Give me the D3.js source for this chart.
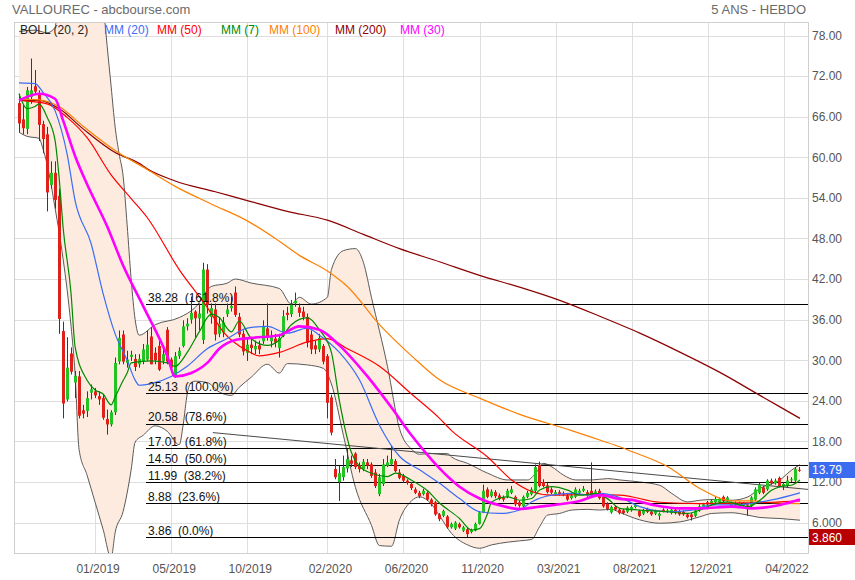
<!DOCTYPE html>
<html><head><meta charset="utf-8">
<script src="https://cdn.jsdelivr.net/npm/d3@7"></script>
<style>
body{margin:0;background:#fff}
svg{display:block}
text{font-family:"Liberation Sans",Arial,sans-serif}
</style>
</head><body>
<svg id="c" width="855" height="580"></svg>
<script>
// ---------- DATA ----------
const opens = [
68.0,65.6,64.2,68.9,70.5,69.4,64.9,63.4,55.9,57.7,
54.3,34.3,24.2,31.0,26.7,27.6,22.6,22.5,25.2,25.4,
24.7,24.4,21.3,20.5,22.3,29.8,33.8,29.6,30.5,30.2,
29.4,29.8,30.1,33.5,31.1,32.1,29.9,34.5,30.1,27.6,
30.6,32.1,35.0,36.0,37.2,36.2,33.0,43.4,36.4,37.5,
33.9,34.1,36.8,37.7,40.0,36.4,33.9,31.1,32.3,31.6,
32.2,32.8,34.7,32.8,33.2,31.8,33.6,37.0,36.8,38.4,
37.8,37.2,36.4,33.8,32.2,31.6,32.1,30.6,24.5,13.9,
12.0,12.7,14.0,15.2,16.2,14.5,13.9,14.9,14.6,13.4,
10.2,11.7,14.4,14.6,15.1,13.4,12.9,12.2,11.7,10.9,
10.4,10.2,10.4,9.4,9.0,7.2,7.0,6.9,5.3,5.1,
5.8,4.8,5.0,4.6,4.8,5.8,7.5,10.9,9.9,10.5,
10.0,9.7,9.8,10.4,9.8,9.0,8.4,9.8,10.2,10.7,
14.5,12.0,11.5,10.9,10.2,10.5,10.3,10.0,9.6,9.8,
10.4,10.7,10.5,10.7,10.4,10.7,9.8,8.8,7.5,8.3,
7.9,7.8,7.6,7.8,8.3,7.7,7.3,8.0,7.6,7.3,
7.0,7.9,7.6,7.4,7.9,7.7,7.6,7.2,7.2,7.0,
7.8,8.4,9.0,8.7,9.0,9.0,9.8,9.3,8.4,8.9,
8.4,8.5,8.7,8.4,9.4,10.4,11.2,10.9,12.2,11.8,
12.6,11.4,11.5,12.3,12.2,13.8];
const highs = [
69.4,67.9,70.4,74.6,72.9,69.9,65.4,64.5,59.4,59.4,
55.4,35.7,33.4,31.9,28.4,28.4,23.4,25.4,26.4,25.9,
25.4,24.9,22.7,22.6,30.4,34.4,34.4,31.4,31.4,30.9,
30.9,32.4,34.4,34.9,31.9,33.4,31.9,34.9,30.4,31.2,
31.9,35.9,36.2,39.4,37.4,38.4,44.4,44.2,38.4,38.4,
36.4,36.4,38.4,39.4,40.9,37.0,34.4,33.4,33.4,32.9,
32.9,35.9,38.4,34.4,33.9,33.9,37.4,37.9,38.9,40.0,
38.4,37.9,36.9,34.4,32.9,33.9,32.4,30.9,24.9,15.4,
14.4,15.9,16.9,15.9,16.4,14.9,15.4,15.4,14.9,13.9,
13.2,15.4,15.9,17.4,15.4,13.9,13.2,12.4,12.0,11.2,
10.7,11.0,10.6,9.6,9.2,7.4,7.9,7.1,6.0,6.2,
6.0,5.5,5.2,5.1,6.0,7.7,11.6,11.2,10.9,10.8,
10.3,10.0,11.0,11.4,10.0,9.2,10.0,10.7,11.2,14.6,
15.0,12.4,11.9,11.2,10.8,10.8,10.6,10.3,10.3,11.2,
11.0,11.4,10.8,14.9,10.9,11.0,10.0,9.0,8.5,8.5,
8.1,8.0,8.4,8.5,8.8,7.9,8.0,8.2,7.8,7.9,
7.5,8.1,8.0,8.1,8.1,7.9,7.8,7.4,7.4,8.0,
8.7,8.9,9.2,9.4,9.8,9.7,10.0,9.9,9.1,9.1,
9.1,9.0,8.9,9.9,11.2,11.9,11.4,12.4,12.5,12.5,
12.8,12.0,12.9,12.7,14.2,14.2];
const lows = [
63.7,63.4,63.4,67.9,69.2,62.4,60.6,52.0,55.4,52.4,
33.9,21.4,23.9,27.9,24.4,21.4,21.4,21.6,24.2,24.4,
23.4,21.2,19.0,20.2,21.9,29.4,29.4,28.9,29.9,28.4,
28.9,29.4,29.9,29.4,29.4,28.4,29.4,29.4,28.2,27.4,
30.2,31.9,34.4,35.4,33.4,34.4,32.4,36.9,35.4,32.9,
33.4,33.4,36.4,37.2,36.4,33.4,30.7,29.9,30.9,30.9,
30.9,32.4,32.9,31.9,31.9,30.4,33.4,35.9,36.4,37.9,
36.4,35.9,31.9,30.9,30.9,31.2,29.4,21.4,18.9,12.4,
9.2,12.2,13.4,14.2,13.9,13.4,13.6,13.9,12.6,11.1,
9.9,11.4,14.2,14.4,13.4,12.4,11.9,11.6,10.8,10.2,
9.6,10.0,9.2,8.4,7.0,6.2,6.8,5.1,5.1,4.9,
5.1,4.6,3.86,4.4,4.7,5.7,7.4,9.6,9.7,9.6,
9.3,9.1,9.6,10.2,8.4,8.2,8.2,9.6,10.0,10.4,
11.2,11.2,10.3,10.2,10.0,10.0,9.9,9.2,9.4,9.6,
10.2,10.5,9.8,9.8,10.2,9.4,8.2,7.8,7.3,7.7,
7.2,7.2,7.4,7.6,8.1,6.8,7.1,7.4,7.0,7.1,
6.4,7.5,7.4,7.2,7.2,7.0,7.0,6.6,6.3,6.8,
7.6,8.2,8.5,8.5,8.8,8.8,9.0,9.1,8.2,8.2,
8.2,8.3,7.0,8.2,9.2,10.2,10.2,10.7,11.6,11.6,
11.2,10.8,11.2,12.0,12.0,13.5];
const closes = [
65.0,64.3,69.9,69.9,69.7,64.8,62.7,54.8,57.7,53.7,
36.1,23.6,28.9,28.3,27.7,21.8,22.1,24.4,25.7,24.8,
24.2,21.5,20.5,22.3,29.6,33.3,29.8,30.1,30.8,29.0,
30.2,31.6,32.3,29.4,30.0,28.6,30.9,29.8,28.9,30.6,
31.4,35.0,35.4,37.0,36.2,36.9,43.4,38.2,37.7,33.8,
35.4,35.6,37.5,38.0,36.7,33.8,31.3,32.3,31.8,32.1,
31.6,35.0,33.4,33.4,32.6,33.3,36.5,36.7,38.2,38.8,
37.0,36.4,32.6,31.6,31.6,33.3,29.8,23.7,19.3,12.7,
13.3,14.2,15.4,14.7,14.2,13.9,15.0,14.4,12.9,11.4,
12.7,14.6,14.9,15.4,13.6,12.6,12.2,11.9,11.1,10.4,
9.9,10.7,9.4,8.7,7.2,6.5,7.7,5.3,5.8,6.0,
5.3,5.3,4.3,4.9,5.8,7.5,10.7,9.8,10.6,9.9,
9.5,9.4,10.7,10.9,8.7,8.5,9.8,10.4,10.9,14.2,
11.4,11.4,10.5,10.4,10.5,10.2,10.2,9.4,10.0,10.9,
10.7,11.0,10.0,10.0,10.6,9.6,8.4,8.0,8.3,7.9,
7.4,7.4,8.2,8.3,8.6,7.0,7.8,7.6,7.2,7.7,
7.3,7.7,7.8,7.9,7.4,7.2,7.2,6.8,6.8,7.8,
8.4,8.7,8.7,9.2,9.5,9.5,9.2,9.7,8.9,8.4,
8.9,8.8,8.5,9.7,10.9,11.6,10.4,12.2,11.8,12.2,
11.4,11.7,12.2,12.4,13.9,13.79];

// moving averages & bands, read as [bar index, value]
const mm200 = [[0,68.4],[5,68.4],[10,67.2],[16,64.2],[24,60.7],[30,59.1],[32,58.3],[39,56.5],[49,54.9],[57,53.6],[67,52],[77,50.7],[86,48.6],[95,46.5],[105,44.55],[115,42.55],[125,40.8],[135,38.85],[145,36.5],[155,34],[165,31.2],[175,28.2],[185,24.8],[195,21.4]];
const mm100 = [[0,68.6],[5,68.5],[10,67.5],[16,64.6],[24,61],[32,58.2],[39,55.7],[48,53.1],[57,50.6],[64,48],[70,45.5],[77,43.2],[82,40.9],[90,35.25],[98,30.65],[105,27.1],[115,24.4],[125,22],[138,19.6],[145,18.2],[150,17.2],[153,16.5],[162,14.25],[170,11.05],[175,9.6],[178,9.2],[183,9.2],[189,8.9],[195,8.8]];
const mm50 = [[0,68.4],[7,67.9],[12,65.9],[17,62.9],[23,57.4],[28,53.9],[32,51.1],[40,43.4],[47,37.8],[51,34.2],[57,31.4],[60,30.65],[65,31.15],[72,32.7],[77,33.2],[82,31.7],[90,29.1],[98,25],[105,21.4],[108,19.6],[117,15.7],[123,12.3],[128,10.6],[133,10.05],[142,10.15],[150,10.05],[160,9.0],[170,8.8],[180,8.9],[188,9.0],[195,9.2]];
const mm20 = [[0,71],[4,70.9],[6,69.6],[9,66.9],[12,60.5],[14,53.6],[18,47.25],[21,39.85],[24,33.9],[27,30],[29,27.05],[30,26.3],[33,26.55],[38,27.6],[42,29.1],[47,31.7],[52,33.2],[57,34.75],[62,35],[67,34],[72,34.75],[75,33.7],[80,31.15],[85,27.1],[90,20.4],[95,15.8],[100,13.8],[105,11.8],[110,9.55],[115,7.6],[120,7.35],[125,7.85],[128,9.05],[133,10.05],[138,10.3],[143,10.05],[145,10.3],[150,9.7],[155,8.35],[162,7.6],[168,7.85],[173,8.6],[178,8.6],[183,8.85],[188,9.35],[195,10.4]];
const mm30 = [[0,68.4],[5,69.4],[9,68.65],[11,65.45],[14,60.2],[17,56],[22,49.8],[26,44],[31,38],[37,30.65],[39,27.6],[43,28.1],[47,29.6],[50,31.7],[54,33],[58,33.3],[65,33.7],[70,35],[75,34.5],[80,32.2],[87,27.6],[93,23],[98,18.9],[103,15.3],[105,14],[110,11.3],[115,9.55],[120,8.55],[125,8],[130,8.35],[135,8.7],[140,9.2],[145,10.05],[150,9.5],[153,9.35],[158,8.65],[165,8.1],[170,8.1],[178,8.35],[183,8.1],[190,8.6],[195,9.4]];
const mm7 = [[0,69.4],[2,67.2],[4,67.5],[5,67.9],[7,65.95],[9,62.5],[10,57.1],[11,49.7],[13,39.85],[14,32],[17,27.05],[19,25.6],[21,25],[23,23.4],[24,24.55],[26,27],[27,28.1],[28,29.6],[33,29.9],[37,29.6],[39,29.1],[42,31.15],[45,34.2],[48,36.8],[50,36.3],[53,34.2],[55,35.8],[58,33.2],[62,32.2],[65,33],[68,35.25],[72,36.3],[75,34.5],[78,31.15],[80,24],[83,16.35],[85,14.3],[88,13.3],[92,12.8],[94,13.3],[98,12.25],[102,10.7],[105,8.9],[110,6.6],[113,4.9],[115,5.1],[117,7.35],[118,9.05],[122,9.8],[125,9.3],[128,9.55],[130,10.8],[133,11.3],[137,10.8],[140,10.05],[144,10.3],[147,9.5],[150,8.1],[155,7.85],[162,7.6],[167,7.35],[170,7.85],[173,8.6],[177,9.05],[180,8.6],[182,8.35],[185,9.3],[188,10.8],[190,11.3],[193,11.55],[195,12.3]];
const bollUpper = [[0,78.6],[4,78.8],[7,78.4],[9,79.2],[10,86],[12,95],[18,95],[20,90],[21,83],[22,76.5],[23,70.5],[24,64.5],[25,60.5],[26,57.2],[27,50],[28,42],[29,36],[30,33.7],[34,35.25],[40,36.3],[44,37.8],[48,40.9],[52,41.4],[54,42],[58,41.4],[65,40.6],[68,38.3],[70,39.3],[73,38.3],[77,39.3],[78,43.4],[81,46.2],[84,46.5],[86,44.45],[88,39.3],[92,29.1],[95,19.9],[98,16.85],[100,16.1],[103,16.2],[107,16.2],[108,15.7],[112,14.75],[117,13.3],[122,12.3],[127,12.3],[129,13.3],[131,14.75],[133,14.25],[136,13],[139,12.3],[143,12.3],[147,12.5],[150,12.3],[155,12],[160,11.5],[163,10.3],[167,9.05],[170,9.3],[173,9.4],[178,9.3],[182,9.8],[185,11.05],[190,12.3],[193,13.8],[195,14.55]];
const bollLower = [[0,63.7],[2,63.1],[5,62.8],[6,61.2],[7,59],[8,56],[9,52.5],[10,49],[11,45],[12,40.5],[13,35],[14,28],[15,16.8],[17,13],[19,9],[21,5],[23,0.8],[24,4.5],[26,7.65],[28,13.8],[29,17.9],[31,18.9],[34,20.3],[37,19.5],[40,17.5],[41,20.5],[42,25],[43,26.7],[44,26.9],[47,26.7],[50,25.3],[53,24.8],[55,26],[58,27.5],[62,29.4],[65,28.1],[67,29.5],[72,29.3],[76,28.8],[78,26.5],[81,18.9],[84,11.2],[88,5.6],[90,2.6],[93,2.5],[95,6.4],[98,9.2],[100,9.8],[103,8.7],[105,7],[108,4.4],[112,2.7],[115,2.2],[118,2.7],[122,3.1],[125,3.3],[128,3.5],[130,5.4],[132,7.1],[135,7.35],[138,7.85],[142,7.95],[145,7.85],[148,7.95],[150,7.5],[155,6.4],[160,5.9],[165,6.1],[170,6.85],[173,7.35],[178,7.45],[182,7.1],[185,6.75],[190,6.6],[195,6.35]];

const fibValues = [38.28, 25.13, 20.58, 17.01, 14.50, 11.99, 8.88, 3.86];
const fibPcts = ["161.8%", "100.0%", "78.6%", "61.8%", "50.0%", "38.2%", "23.6%", "0.0%"];
const trendline = [[48.4, 19.3], [197, 10.9]];

const tickBars = [19, 38, 57, 77, 96, 115, 134, 153, 172, 191];
const tickLabels = ["01/2019","05/2019","10/2019","02/2020","06/2020","11/2020","03/2021","08/2021","12/2021","04/2022"];
const priceTicks = [78, 72, 66, 60, 54, 48, 42, 36, 30, 24, 18, 12, 6];
const priceTickLabels = ["78.00","72.00","66.00","60.00","54.00","48.00","42.00","36.00","30.00","24.00","18.00","12.00","6.000"];

const lastPrice = 13.79, lastLabel = "13.79";
const lowPrice = 3.86, lowLabel = "3.860";

const legend = [
  {t:"BOLL (20, 2)", c:"#222"}, {t:"MM (20)", c:"#3b6cf6"}, {t:"MM (50)", c:"#ff0000"},
  {t:"MM (7)", c:"#008a00"}, {t:"MM (100)", c:"#ff7f00"}, {t:"MM (200)", c:"#8b0000"}, {t:"MM (30)", c:"#ff00ff"}
];
const legendX = [20, 104, 157, 221, 269, 335, 400];

// ---------- CHART ----------
const N = closes.length;
const L = 14, R = 808, T = 22, B = 553;
const svg = d3.select("#c");
const x = d3.scaleBand().domain(d3.range(N)).range([17, 17 + N * 4.005]).paddingInner(0.25).paddingOuter(0.125);
const cx = i => x(i) + x.bandwidth() / 2;
const xAt = t => x(0) + x.bandwidth() / 2 + t * x.step();
const y = d3.scaleLinear().domain([1.5, 80]).range([B, T]);
const crisp = v => Math.round(v) + 0.5;

const defs = svg.append("defs");
defs.append("clipPath").attr("id", "plot").append("rect").attr("x", L).attr("y", T).attr("width", R - L).attr("height", B - T);
defs.append("clipPath").attr("id", "aboveLower").append("path")
  .attr("d", d3.area().x(d => xAt(d[0])).y0(d => y(d[1])).y1(-50).curve(d3.curveMonotoneX)(bollLower));

// grid
const grid = svg.append("g");
grid.selectAll("line.h").data(priceTicks).join("line")
  .attr("x1", L).attr("x2", R).attr("y1", d => crisp(y(d))).attr("y2", d => crisp(y(d)))
  .attr("stroke", "#dedede").attr("stroke-width", 1);
grid.selectAll("line.v").data(tickBars).join("line")
  .attr("x1", d => crisp(cx(d))).attr("x2", d => crisp(cx(d))).attr("y1", T).attr("y2", B)
  .attr("stroke", "#dedede").attr("stroke-width", 1);

const plot = svg.append("g").attr("clip-path", "url(#plot)");

// bollinger fill
plot.append("g").attr("clip-path", "url(#aboveLower)").append("path")
  .attr("d", d3.area().x(d => xAt(d[0])).y0(B + 50).y1(d => y(d[1])).curve(d3.curveMonotoneX)(bollUpper))
  .attr("fill", "#fdebdf");
const lineGen = d3.line().x(d => xAt(d[0])).y(d => y(d[1])).curve(d3.curveMonotoneX);
[bollUpper, bollLower].forEach(s => plot.append("path").attr("d", lineGen(s))
  .attr("fill", "none").attr("stroke", "#5a5a5a").attr("stroke-width", 1));

// fib lines
plot.selectAll("line.fib").data(fibValues).join("line")
  .attr("x1", 146).attr("x2", R).attr("y1", d => crisp(y(d))).attr("y2", d => crisp(y(d)))
  .attr("stroke", "#000").attr("stroke-width", 1);

// trendline
plot.append("line")
  .attr("x1", xAt(trendline[0][0])).attr("y1", y(trendline[0][1]))
  .attr("x2", xAt(trendline[1][0])).attr("y2", y(trendline[1][1]))
  .attr("stroke", "#4a4a4a").attr("stroke-width", 1);

// candles
const candles = plot.append("g");
d3.range(N).forEach(i => {
  const o = opens[i], c = closes[i];
  const hi = Math.max(highs[i], o, c), lo = Math.min(lows[i], o, c);
  const left = Math.round(cx(i) - 1.5);
  const up = c >= o;
  candles.append("line").attr("x1", left + 1.5).attr("x2", left + 1.5)
    .attr("y1", y(hi)).attr("y2", y(lo)).attr("stroke", "#3a3a3a").attr("stroke-width", 1);
  const top = y(Math.max(o, c)), bot = y(Math.min(o, c));
  candles.append("rect").attr("x", left).attr("width", 3)
    .attr("y", top).attr("height", Math.max(1, bot - top))
    .attr("fill", up ? "#22c322" : "#e0201b");
});

// moving averages
const mas = [
  {d: mm200, c: "#8b0000", w: 1.2},
  {d: mm100, c: "#ff7f00", w: 1.2},
  {d: mm50, c: "#ff0000", w: 1.2},
  {d: mm20, c: "#3b6cf6", w: 1.2},
  {d: mm7, c: "#008a00", w: 1.2},
  {d: mm30, c: "#ff00ff", w: 2.6}
];
mas.forEach(m => plot.append("path").attr("d", lineGen(m.d))
  .attr("fill", "none").attr("stroke", m.c).attr("stroke-width", m.w).attr("stroke-linejoin", "round"));

// fib labels
svg.selectAll("text.fib").data(fibValues).join("text")
  .attr("x", 148).attr("y", d => y(d) - 2.5)
  .attr("font-size", 12).attr("fill", "#111").style("white-space", "pre")
  .text((d, i) => d.toFixed(2) + "  (" + fibPcts[i] + ")");

// frame
svg.append("rect").attr("x", L + 0.5).attr("y", T + 0.5).attr("width", R - L).attr("height", B - T)
  .attr("fill", "none").attr("stroke", "#cfcfcf");

// legend
svg.selectAll("text.leg").data(legend).join("text")
  .attr("x", (d, i) => legendX[i]).attr("y", 34).attr("font-size", 12)
  .attr("fill", d => d.c).text(d => d.t);

// title
svg.append("text").attr("x", 12).attr("y", 14).attr("font-size", 13).attr("fill", "#6a6a6a").text("VALLOUREC - abcbourse.com");
svg.append("text").attr("x", 806).attr("y", 14).attr("font-size", 13).attr("fill", "#6a6a6a").attr("text-anchor", "end").text("5 ANS - HEBDO");

// axes
const yAxis = svg.append("g").attr("transform", `translate(${R},0)`)
  .call(d3.axisRight(y).tickValues(priceTicks).tickFormat((d, i) => priceTickLabels[i]).tickSize(0).tickPadding(4));
yAxis.select(".domain").remove();
yAxis.selectAll("text").attr("font-size", 12).attr("fill", "#555").attr("font-family", "Liberation Sans, Arial, sans-serif");

const xAxis = svg.append("g").attr("transform", `translate(3,${B})`)
  .call(d3.axisBottom(x).tickValues(tickBars).tickFormat((d, i) => tickLabels[i]).tickSize(0).tickPadding(11));
xAxis.select(".domain").remove();
xAxis.selectAll("text").attr("font-size", 12).attr("fill", "#555").attr("font-family", "Liberation Sans, Arial, sans-serif");

// value boxes
[[lastPrice, lastLabel, "#3b6cf0"], [lowPrice, lowLabel, "#b80000"]].forEach(([v, lab, col]) => {
  const yy = y(v);
  svg.append("rect").attr("x", R + 1).attr("y", Math.round(yy - 8)).attr("width", 855 - R - 1).attr("height", 16).attr("fill", col);
  svg.append("text").attr("x", R + 4).attr("y", yy + 4.5).attr("font-size", 12).attr("fill", "#fff").text(lab);
});
</script>
</body></html>
